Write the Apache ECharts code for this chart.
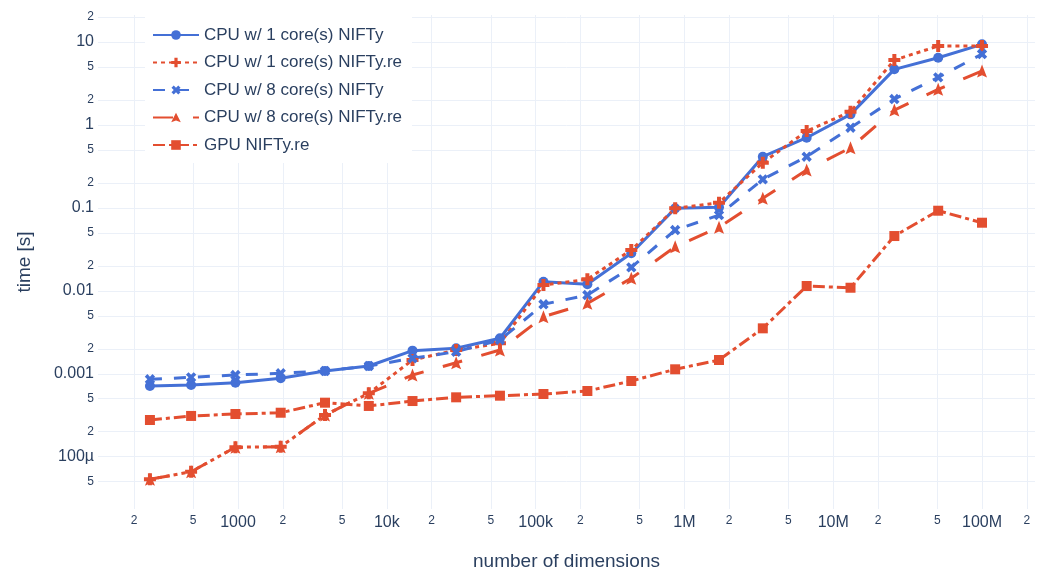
<!DOCTYPE html>
<html>
<head>
<meta charset="utf-8">
<script src="https://cdn.jsdelivr.net/npm/echarts@6/dist/echarts.min.js"></script>
<style>
  html, body { margin: 0; padding: 0; background: #fff; }
  #chart { width: 1041px; height: 572px; }
</style>
</head>
<body>
<div id="chart"></div>
<script>
// number of dimensions (x)
var dims = [256, 484, 961, 1936, 3844, 7569, 14884, 29241, 57600, 112896,
    222784, 439569, 866761, 1708249, 3363556, 6630625, 13068225, 25755625, 50751376, 100000000];

// time [s] per series
var cpu1Nifty = [7.12e-4, 7.32e-4, 7.80e-4, 8.82e-4, 1.08e-3, 1.24e-3, 1.90e-3, 2.03e-3, 2.68e-3, 0.0129,
    0.0120, 0.0284, 0.0988, 0.1016, 0.414, 0.702, 1.344, 4.69, 6.47, 9.38];
var cpu1Re = [5.34e-5, 6.59e-5, 1.30e-4, 1.32e-4, 3.18e-4, 5.81e-4, 1.465e-3, 1.93e-3, 2.33e-3, 0.01175,
    0.01377, 0.0311, 0.0988, 0.1155, 0.3505, 0.845, 1.444, 6.07, 8.95, 8.95];
var cpu8Nifty = [8.58e-4, 9.06e-4, 9.66e-4, 1.013e-3, 1.08e-3, 1.24e-3, 1.536e-3, 1.845e-3, 2.553e-3, 6.88e-3,
    8.90e-3, 0.0192, 0.0541, 0.0820, 0.221, 0.414, 0.926, 2.055, 3.75, 7.17];
var cpu8Re = [5.34e-5, 6.59e-5, 1.30e-4, 1.32e-4, 3.18e-4, 5.81e-4, 9.66e-4, 1.359e-3, 1.934e-3, 4.875e-3,
    7.07e-3, 0.01416, 0.0340, 0.0583, 0.1305, 0.2862, 0.5316, 1.514, 2.69, 4.47];
var gpuRe = [2.77e-4, 3.10e-4, 3.27e-4, 3.39e-4, 4.48e-4, 4.09e-4, 4.69e-4, 5.20e-4, 5.44e-4, 5.70e-4,
    6.20e-4, 8.18e-4, 1.132e-3, 1.465e-3, 3.53e-3, 0.01143, 0.0109, 0.0458, 0.0925, 0.0663];

var seriesNames = ['CPU w/ 1 core(s) NIFTy', 'CPU w/ 1 core(s) NIFTy.re', 'CPU w/ 8 core(s) NIFTy',
    'CPU w/ 8 core(s) NIFTy.re', 'GPU NIFTy.re'];

// tick values and labels
var xTicks = [200, 500, 1000, 2000, 5000, 1e4, 2e4, 5e4, 1e5, 2e5, 5e5, 1e6, 2e6, 5e6, 1e7, 2e7, 5e7, 1e8, 2e8];
var xDecadeLabels = {3: '1000', 4: '10k', 5: '100k', 6: '1M', 7: '10M', 8: '100M'};
var yTicks = [5e-5, 1e-4, 2e-4, 5e-4, 1e-3, 2e-3, 5e-3, 0.01, 0.02, 0.05, 0.1, 0.2, 0.5, 1, 2, 5, 10, 20];
var yDecadeLabels = {'-4': '100µ', '-3': '0.001', '-2': '0.01', '-1': '0.1', '0': '1', '1': '10'};

var blue = '#4470d6';
var red = '#e34e30';
var txt = '#2a3f5f';
var gridCol = '#ebf0f8';
var font = '"Liberation Sans", Arial, sans-serif';

var plusPath = 'path://M-1,-3L1,-3L1,-1L3,-1L3,1L1,1L1,3L-1,3L-1,1L-3,1L-3,-1L-1,-1Z';
var arrowPath = 'path://M0,-5L3.6,3.5L0,2L-3.6,3.5Z';

function makeFormatter(names) {
    return function (v) {
        var e = Math.floor(Math.log10(v) + 1e-9);
        var m = Math.round(v / Math.pow(10, e));
        if (m !== 1) return '{s|' + m + '}';
        return '{b|' + names[e] + '}';
    };
}

function pairs(ys) {
    return dims.map(function (d, i) { return [d, ys[i]]; });
}

function line(name, ys, color, dash, symbol, size, rot) {
    return {
        name: name,
        type: 'line',
        data: pairs(ys),
        symbol: symbol,
        symbolSize: size,
        symbolRotate: rot || 0,
        showAllSymbol: true,
        lineStyle: { color: color, width: 3, type: dash },
        itemStyle: { color: color },
        emphasis: { disabled: true }
    };
}

var chart = echarts.init(document.getElementById('chart'));
chart.setOption({
    animation: false,
    backgroundColor: '#fff',
    textStyle: { fontFamily: font, color: txt },
    grid: { left: 98, right: 6, top: 15, bottom: 63, outerBoundsMode: 'none', containLabel: false },
    legend: {
        orient: 'vertical',
        left: 145,
        top: 14,
        padding: [12, 10, 9, 7],
        backgroundColor: '#fff',
        itemWidth: 46,
        itemHeight: 12,
        itemGap: 9.5,
        data: seriesNames,
        textStyle: { fontFamily: font, fontSize: 17, color: txt, lineHeight: 18 }
    },
    xAxis: {
        type: 'log',
        logBase: 10,
        min: 114.6,
        max: 2.27e8,
        name: 'number of dimensions',
        nameLocation: 'middle',
        nameGap: 43,
        nameTextStyle: { fontFamily: font, fontSize: 19, color: txt },
        axisLine: { show: false },
        axisTick: { show: false, customValues: xTicks },
        splitLine: { show: true, lineStyle: { color: gridCol, width: 1 } },
        axisLabel: {
            customValues: xTicks,
            margin: 5,
            color: txt,
            formatter: makeFormatter(xDecadeLabels),
            rich: {
                s: { fontFamily: font, fontSize: 12, lineHeight: 13, color: txt },
                b: { fontFamily: font, fontSize: 16, lineHeight: 17, color: txt }
            }
        }
    },
    yAxis: {
        type: 'log',
        logBase: 10,
        min: 2.34e-5,
        max: 21.2,
        name: 'time [s]',
        nameLocation: 'middle',
        nameGap: 64,
        nameTextStyle: { fontFamily: font, fontSize: 19, color: txt },
        axisLine: { show: false },
        axisTick: { show: false, customValues: yTicks },
        splitLine: { show: true, lineStyle: { color: gridCol, width: 1 } },
        axisLabel: {
            customValues: yTicks,
            margin: 4,
            color: txt,
            formatter: makeFormatter(yDecadeLabels),
            rich: {
                s: { fontFamily: font, fontSize: 12, lineHeight: 13, color: txt },
                b: { fontFamily: font, fontSize: 16, lineHeight: 17, color: txt }
            }
        }
    },
    series: [
        line(seriesNames[0], cpu1Nifty, blue, 'solid', 'circle', 10),
        line(seriesNames[1], cpu1Re, red, [4, 4], plusPath, 12),
        line(seriesNames[2], cpu8Nifty, blue, [12, 12], plusPath, 11, 45),
        line(seriesNames[3], cpu8Re, red, [20, 20], arrowPath, [10, 13]),
        line(seriesNames[4], gpuRe, red, [12, 4, 4, 4], 'rect', 10)
    ]
});
</script>
</body>
</html>
